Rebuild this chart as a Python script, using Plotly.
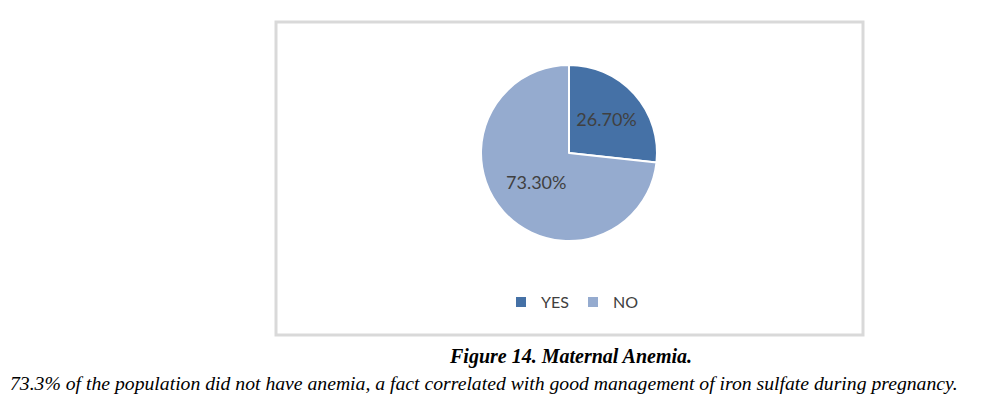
import plotly.graph_objects as go

labels = ["YES", "NO"]
values = [26.7, 73.3]
text_labels = ["26.70%", "73.30%"]
colors = ["#4571A6", "#95ABCF"]

W, H = 982, 410
cx, cy, r = 569, 153, 88

fig = go.Figure(go.Pie(
    labels=labels, values=values, text=text_labels,
    textinfo="text", textposition="inside", insidetextorientation="horizontal",
    sort=False, direction="clockwise", rotation=0,
    marker=dict(colors=colors, line=dict(color="white", width=2)),
    textfont=dict(family="Lato", size=18, color="#404040"),
    hoverinfo="label+percent",
    domain=dict(x=[(cx - r) / W, (cx + r) / W], y=[1 - (cy + r) / H, 1 - (cy - r) / H]),
))

fig.update_layout(
    width=W, height=H,
    margin=dict(l=0, r=0, t=0, b=0),
    paper_bgcolor="white", plot_bgcolor="white",
    showlegend=True,
    legend=dict(orientation="h", x=573 / W, xanchor="center", y=1 - 302 / H, yanchor="middle",
                font=dict(family="Lato", size=16, color="#404040"), itemwidth=30,
                entrywidth=27, entrywidthmode="pixels",
                traceorder="normal"),
    shapes=[dict(type="rect", xref="paper", yref="paper",
                 x0=276 / W, x1=863 / W, y0=1 - 335 / H, y1=1 - 22 / H,
                 line=dict(color="#D9D9D9", width=3), fillcolor="rgba(0,0,0,0)")],
    annotations=[
        dict(text="<b><i>Figure 14. Maternal Anemia.</i></b>", x=570 / W, y=1 - 356 / H,
             xref="paper", yref="paper", showarrow=False, xanchor="center", yanchor="middle",
             font=dict(family="Liberation Serif", size=20, color="black")),
        dict(text="<i>73.3% of the population did not have anemia, a fact correlated with good management of iron sulfate during pregnancy.</i>",
             x=8 / W, y=1 - 383 / H, xref="paper", yref="paper", showarrow=False,
             xanchor="left", yanchor="middle",
             font=dict(family="Liberation Serif", size=19.7, color="black")),
    ],
)

fig.write_html("out.html", config={"displayModeBar": False},
               post_script="document.body.style.margin='0px';")
